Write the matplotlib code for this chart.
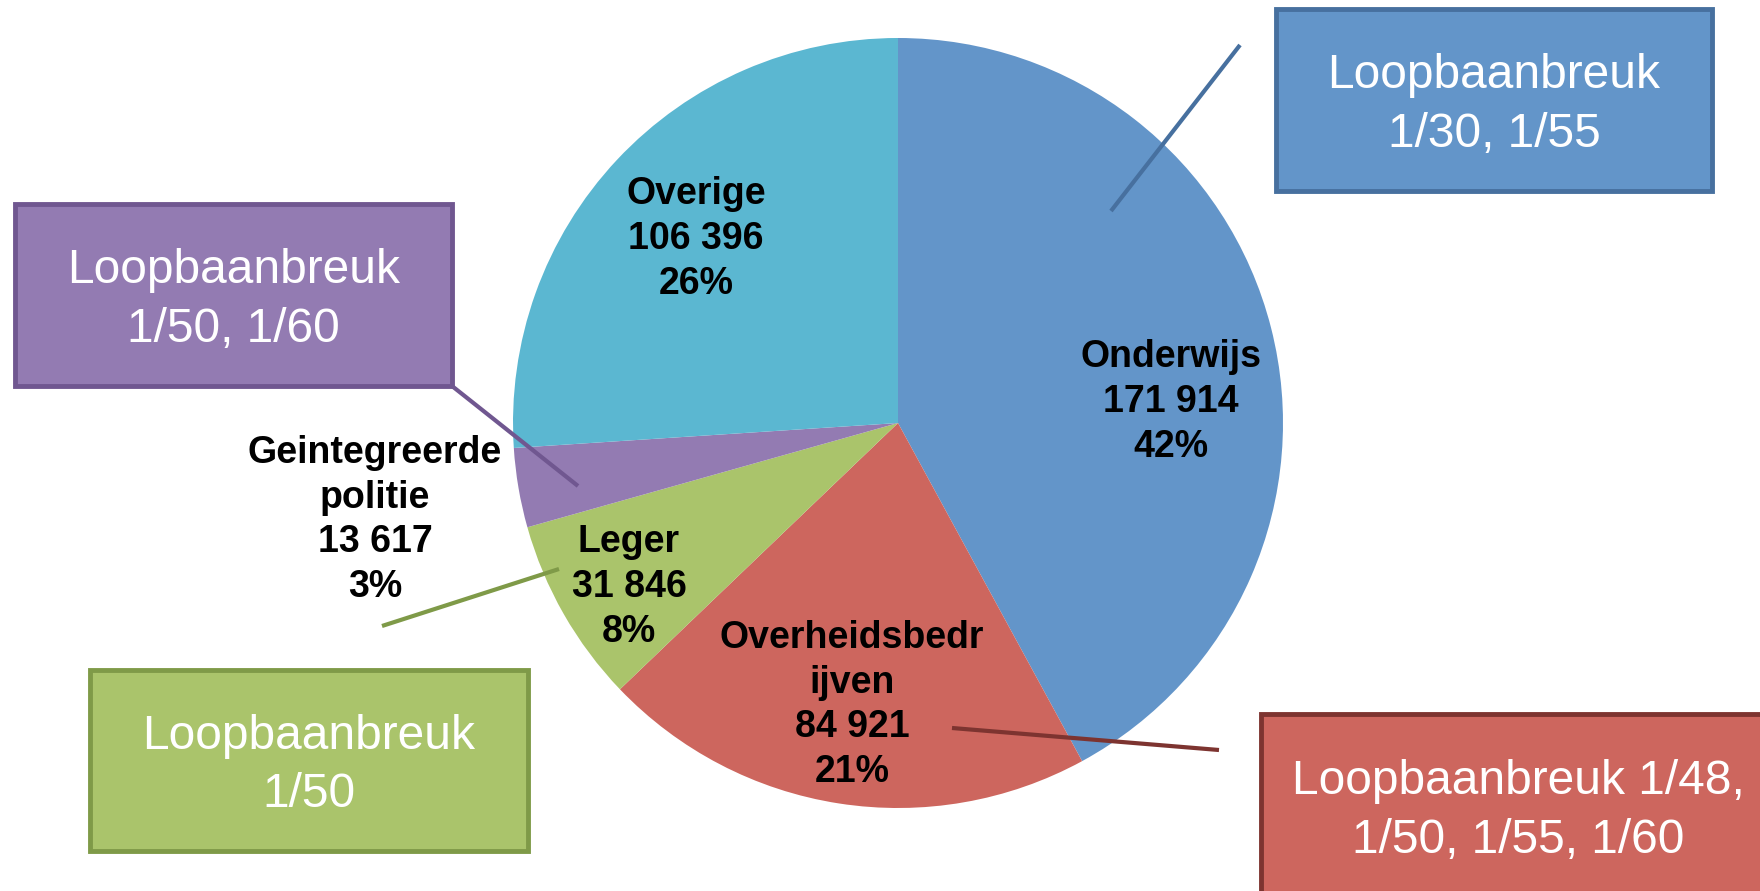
import matplotlib.pyplot as plt
from matplotlib.patches import Rectangle

plt.rcParams['font.family'] = ['Liberation Sans', 'DejaVu Sans']

W, H = 1760, 891

# slices, clockwise from the top
names = ['Onderwijs', 'Overheidsbedr\nijven', 'Leger', 'Geintegreerde\npolitie', 'Overige']
values = [171914, 84921, 31846, 13617, 106396]
colors = ['#6395C9', '#CD665E', '#AAC46B', '#937BB2', '#5BB7D1']
edges = ['#47709F', '#7D3430', '#7F9A48', '#705790', '#4A90A8']

# callout boxes: text, slice index
box_texts = ['Loopbaanbreuk\n1/30, 1/55', 'Loopbaanbreuk 1/48,\n1/50, 1/55, 1/60',
             'Loopbaanbreuk\n1/50', 'Loopbaanbreuk\n1/50, 1/60']
box_slice = [0, 1, 2, 3]


def fy(y):
    return H - y


fig = plt.figure(figsize=(W / 100, H / 100), dpi=100)
ax = fig.add_axes([0, 0, 1, 1])

ax.pie(values, colors=colors, startangle=90, counterclock=False,
       center=(898, fy(423)), radius=385,
       wedgeprops=dict(linewidth=0))
ax.set_xlim(0, W)
ax.set_ylim(0, H)
ax.set_aspect('equal')
ax.axis('off')

total = sum(values)
label_pos = [(1171, 402), (852, 705), (629, 587), (375, 520), (696, 239)]
for name, v, (x, y) in zip(names, values, label_pos):
    txt = f"{name}\n{v:,}".replace(',', ' ') + f"\n{v / total * 100:.0f}%"
    ax.text(x, fy(y), txt, ha='center', va='center', fontsize=27,
            fontweight='bold', color='black', linespacing=1.31)

# box geometry (left, top, right, bottom) and leader lines
boxes = [(1276, 9, 1712, 191), (1261, 714, 1775, 905),
         (90, 670, 528, 851), (15, 204, 452, 386)]
leaders = [((1240, 45), (1111, 211)), ((1219, 750), (952, 728)),
           ((382, 626), (559, 569)), ((452, 386), (578, 486))]

for t, si, (l, tp, r, b), (p0, p1) in zip(box_texts, box_slice, boxes, leaders):
    ax.add_patch(Rectangle((l, fy(b)), r - l, b - tp, facecolor=colors[si],
                           edgecolor=edges[si], linewidth=3.5, zorder=3,
                           clip_on=False))
    cy = (tp + b) / 2 + 5 if b < H else 811
    ax.text((l + r) / 2, fy(cy), t,
            ha='center', va='center', fontsize=34.5, color='white',
            linespacing=1.38, zorder=4)
    ax.plot([p0[0], p1[0]], [fy(p0[1]), fy(p1[1])], color=edges[si],
            linewidth=3, solid_capstyle='butt', zorder=5)

fig.savefig('out.png', dpi=100)
